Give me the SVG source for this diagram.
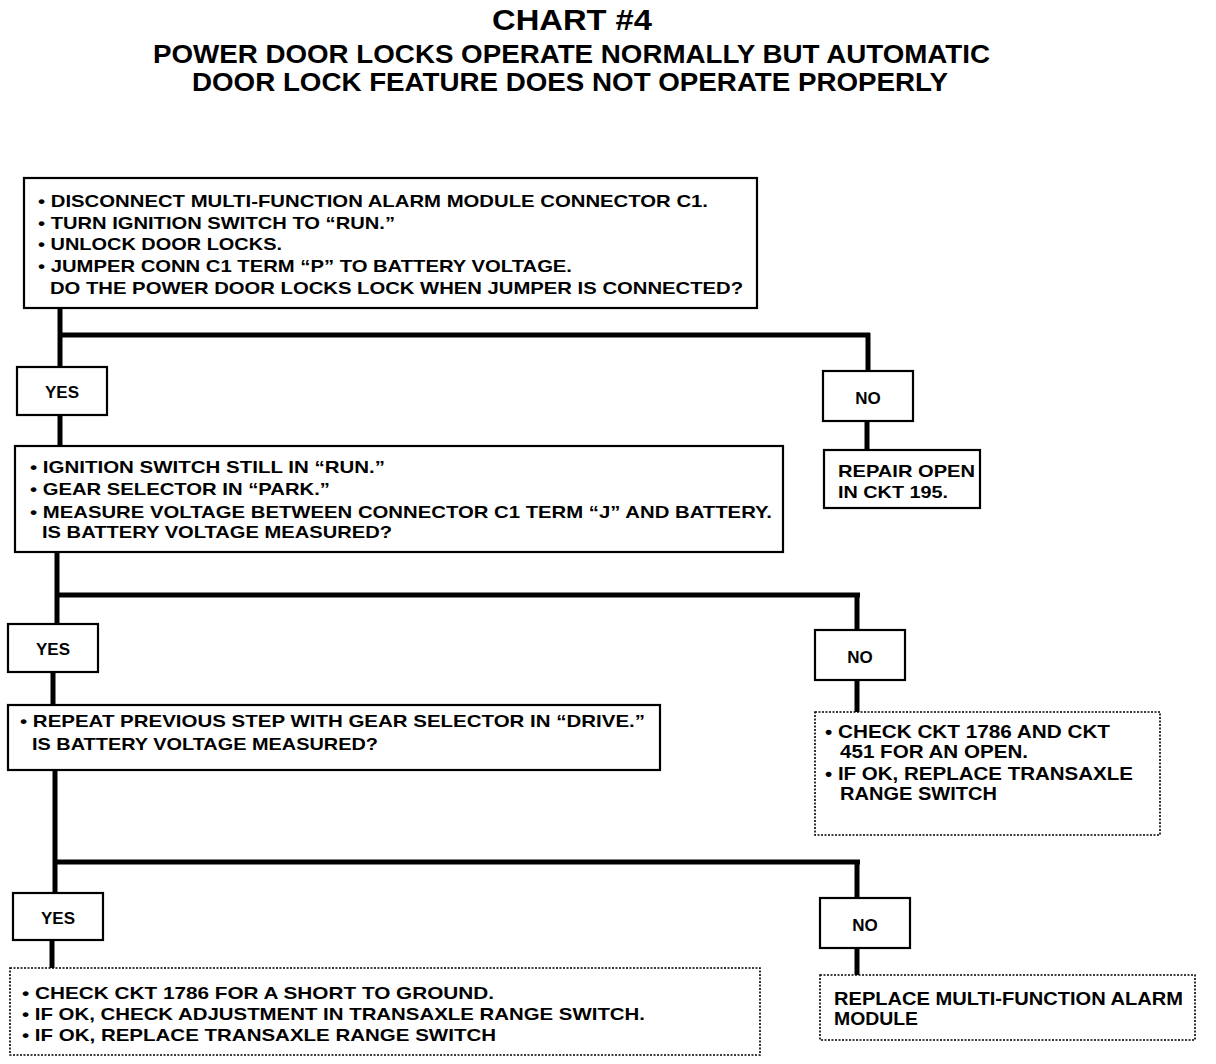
<svg xmlns="http://www.w3.org/2000/svg" width="1216" height="1064" viewBox="0 0 1216 1064">
<style>
text{font-family:"Liberation Sans",Arial,sans-serif;font-weight:bold;fill:#000}
.t{font-size:17px}
.w{font-size:18px}
.h1{font-size:29px}
.h2{font-size:25px}
.box{fill:#fff;stroke:#000;stroke-width:2.2}
.dot{fill:#fff;stroke:#000;stroke-width:1.6;stroke-dasharray:2 1.5}
.c line{stroke:#000;stroke-width:5}
.lab{font-size:17px;text-anchor:middle}
</style>
<rect width="1216" height="1064" fill="#fff"/>
<g id="title">
<text class="h1" x="572" y="30" text-anchor="middle" textLength="160" lengthAdjust="spacingAndGlyphs">CHART #4</text>
<text class="h2" x="153" y="63" textLength="837" lengthAdjust="spacingAndGlyphs">POWER DOOR LOCKS OPERATE NORMALLY BUT AUTOMATIC</text>
<text class="h2" x="192" y="91" textLength="756" lengthAdjust="spacingAndGlyphs">DOOR LOCK FEATURE DOES NOT OPERATE PROPERLY</text>
</g>
<g class="c" id="connectors">
<line x1="60" y1="308" x2="60" y2="367"/>
<line x1="58" y1="335" x2="870" y2="335"/>
<line x1="868" y1="333" x2="868" y2="371"/>
<line x1="867" y1="421" x2="867" y2="450"/>
<line x1="60" y1="415" x2="60" y2="447"/>
<line x1="57" y1="553" x2="57" y2="625"/>
<line x1="55" y1="595" x2="860" y2="595"/>
<line x1="857" y1="593" x2="857" y2="630"/>
<line x1="857" y1="680" x2="857" y2="712"/>
<line x1="53" y1="672" x2="53" y2="705"/>
<line x1="55" y1="770" x2="55" y2="893"/>
<line x1="53" y1="862" x2="860" y2="862"/>
<line x1="857" y1="860" x2="857" y2="898"/>
<line x1="857" y1="948" x2="857" y2="975"/>
<line x1="52" y1="940" x2="52" y2="968"/>
</g>
<g id="step1">
<rect class="box" x="24" y="178" width="733" height="130"/>
<text class="t" x="38" y="207" textLength="670" lengthAdjust="spacingAndGlyphs">• DISCONNECT MULTI-FUNCTION ALARM MODULE CONNECTOR C1.</text>
<text class="t" x="38" y="229" textLength="357" lengthAdjust="spacingAndGlyphs">• TURN IGNITION SWITCH TO “RUN.”</text>
<text class="t" x="38" y="250" textLength="244" lengthAdjust="spacingAndGlyphs">• UNLOCK DOOR LOCKS.</text>
<text class="t" x="38" y="272" textLength="534" lengthAdjust="spacingAndGlyphs">• JUMPER CONN C1 TERM “P” TO BATTERY VOLTAGE.</text>
<text class="t" x="50" y="294" textLength="693" lengthAdjust="spacingAndGlyphs">DO THE POWER DOOR LOCKS LOCK WHEN JUMPER IS CONNECTED?</text>
</g>
<g id="yes1">
<rect class="box" x="17" y="367" width="90" height="48"/>
<text class="lab" x="62" y="398">YES</text>
</g>
<g id="no1">
<rect class="box" x="823" y="371" width="90" height="50"/>
<text class="lab" x="868" y="404">NO</text>
</g>
<g id="repair1">
<rect class="box" x="824" y="450" width="156" height="58"/>
<text class="t" x="838" y="477" textLength="137" lengthAdjust="spacingAndGlyphs">REPAIR OPEN</text>
<text class="t" x="838" y="498" textLength="110" lengthAdjust="spacingAndGlyphs">IN CKT 195.</text>
</g>
<g id="step2">
<rect class="box" x="15" y="446" width="768" height="106"/>
<text class="t" x="30" y="473" textLength="355" lengthAdjust="spacingAndGlyphs">• IGNITION SWITCH STILL IN “RUN.”</text>
<text class="t" x="30" y="495" textLength="300" lengthAdjust="spacingAndGlyphs">• GEAR SELECTOR IN “PARK.”</text>
<text class="t" x="30" y="518" textLength="742" lengthAdjust="spacingAndGlyphs">• MEASURE VOLTAGE BETWEEN CONNECTOR C1 TERM “J” AND BATTERY.</text>
<text class="t" x="42" y="538" textLength="350" lengthAdjust="spacingAndGlyphs">IS BATTERY VOLTAGE MEASURED?</text>
</g>
<g id="yes2">
<rect class="box" x="8" y="624" width="90" height="48"/>
<text class="lab" x="53" y="655">YES</text>
</g>
<g id="no2">
<rect class="box" x="815" y="630" width="90" height="50"/>
<text class="lab" x="860" y="663">NO</text>
</g>
<g id="step3">
<rect class="box" x="8" y="705" width="652" height="65"/>
<text class="t" x="20" y="727" textLength="625" lengthAdjust="spacingAndGlyphs">• REPEAT PREVIOUS STEP WITH GEAR SELECTOR IN “DRIVE.”</text>
<text class="t" x="32" y="750" textLength="346" lengthAdjust="spacingAndGlyphs">IS BATTERY VOLTAGE MEASURED?</text>
</g>
<g id="check1">
<rect class="dot" x="815" y="712" width="345" height="123"/>
<text class="w" x="825" y="738" textLength="285" lengthAdjust="spacingAndGlyphs">• CHECK CKT 1786 AND CKT</text>
<text class="w" x="840" y="758" textLength="188" lengthAdjust="spacingAndGlyphs">451 FOR AN OPEN.</text>
<text class="w" x="825" y="780" textLength="308" lengthAdjust="spacingAndGlyphs">• IF OK, REPLACE TRANSAXLE</text>
<text class="w" x="840" y="800" textLength="157" lengthAdjust="spacingAndGlyphs">RANGE SWITCH</text>
</g>
<g id="yes3">
<rect class="box" x="13" y="893" width="90" height="47"/>
<text class="lab" x="58" y="924">YES</text>
</g>
<g id="no3">
<rect class="box" x="820" y="898" width="90" height="50"/>
<text class="lab" x="865" y="931">NO</text>
</g>
<g id="replace">
<rect class="dot" x="820" y="975" width="375" height="65"/>
<text class="w" x="834" y="1005" textLength="349" lengthAdjust="spacingAndGlyphs">REPLACE MULTI-FUNCTION ALARM</text>
<text class="w" x="834" y="1025" textLength="84" lengthAdjust="spacingAndGlyphs">MODULE</text>
</g>
<g id="check2">
<rect class="dot" x="10" y="968" width="750" height="87"/>
<text class="t" x="22" y="999" textLength="472" lengthAdjust="spacingAndGlyphs">• CHECK CKT 1786 FOR A SHORT TO GROUND.</text>
<text class="t" x="22" y="1020" textLength="623" lengthAdjust="spacingAndGlyphs">• IF OK, CHECK ADJUSTMENT IN TRANSAXLE RANGE SWITCH.</text>
<text class="t" x="22" y="1041" textLength="474" lengthAdjust="spacingAndGlyphs">• IF OK, REPLACE TRANSAXLE RANGE SWITCH</text>
</g>
</svg>
